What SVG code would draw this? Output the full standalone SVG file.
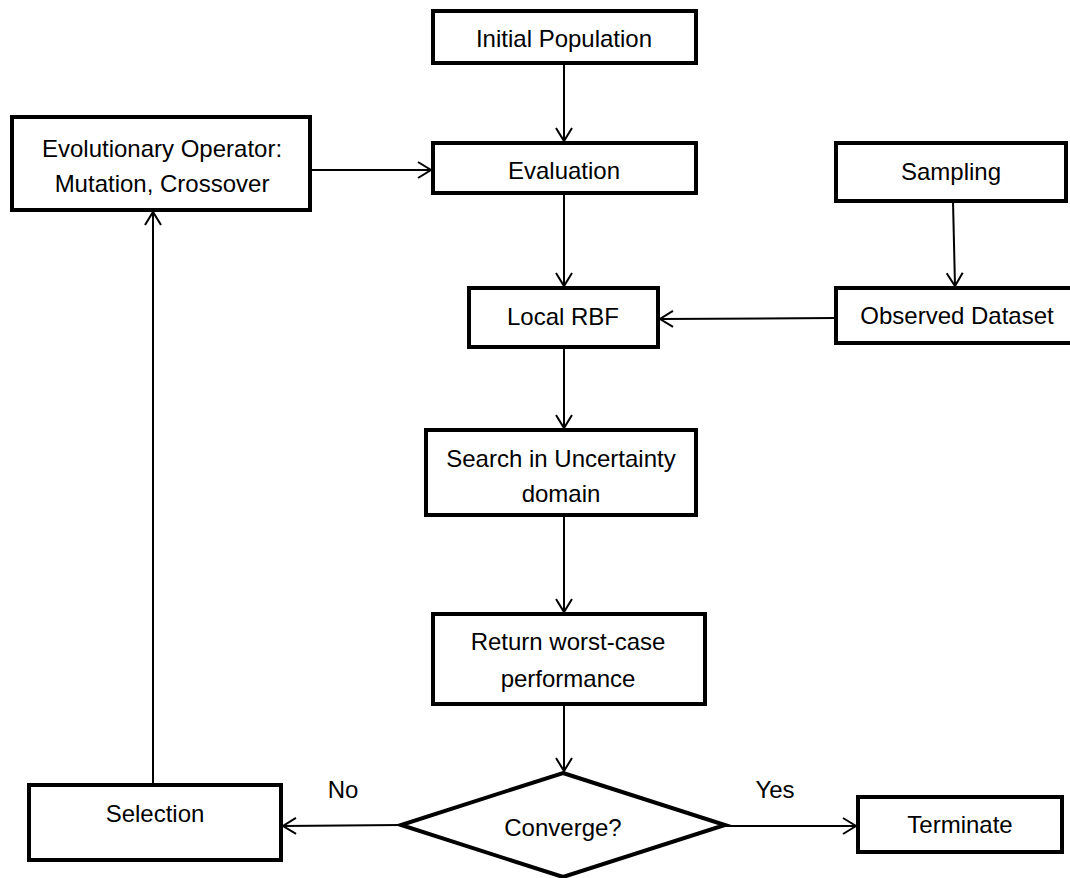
<svg xmlns="http://www.w3.org/2000/svg" width="1070" height="878" viewBox="0 0 1070 878">
<style>
.box{fill:#fff;stroke:#000;stroke-width:4}
.t{font-family:"Liberation Sans",Arial,sans-serif;font-size:24px;fill:#000;text-anchor:middle}
.c{stroke:#000;stroke-width:2;fill:none;marker-end:url(#ah)}
</style>
<defs>
<marker id="ah" markerUnits="userSpaceOnUse" markerWidth="16" markerHeight="20" refX="14" refY="9" orient="auto" viewBox="0 0 16 20">
<path d="M1,1 L14,9 L1,17" fill="none" stroke="#000" stroke-width="2"/>
</marker>
</defs>
<rect width="1070" height="878" fill="#fff"/>
<g id="connectors">
<line class="c" x1="564" y1="63" x2="564" y2="141"/>
<line class="c" x1="310" y1="170" x2="431" y2="170"/>
<line class="c" x1="564" y1="193" x2="564" y2="286"/>
<line class="c" x1="953" y1="201" x2="955" y2="286"/>
<line class="c" x1="836" y1="318" x2="660" y2="319"/>
<line class="c" x1="564" y1="347" x2="564" y2="428"/>
<line class="c" x1="564" y1="515" x2="564" y2="612"/>
<line class="c" x1="564" y1="704" x2="564" y2="771"/>
<line class="c" x1="401" y1="825" x2="283" y2="826"/>
<line class="c" x1="725" y1="826" x2="856" y2="826"/>
<line class="c" x1="153" y1="785" x2="153" y2="212"/>
</g>
<g id="initial-population">
<rect class="box" x="433" y="11" width="263" height="52"/>
<text class="t" x="564" y="47">Initial Population</text>
</g>
<g id="evaluation">
<rect class="box" x="433" y="143" width="263" height="50"/>
<text class="t" x="564" y="179">Evaluation</text>
</g>
<g id="evolutionary-operator">
<rect class="box" x="12" y="117" width="298" height="93"/>
<text class="t" x="162" y="157">Evolutionary Operator:</text>
<text class="t" x="162" y="192">Mutation, Crossover</text>
</g>
<g id="sampling">
<rect class="box" x="836" y="143" width="230" height="58"/>
<text class="t" x="951" y="180">Sampling</text>
</g>
<g id="observed-dataset">
<rect class="box" x="836" y="288" width="236" height="55"/>
<text class="t" x="957" y="324">Observed Dataset</text>
</g>
<g id="local-rbf">
<rect class="box" x="469" y="288" width="189" height="59"/>
<text class="t" x="563" y="325">Local RBF</text>
</g>
<g id="search">
<rect class="box" x="426" y="430" width="270" height="85"/>
<text class="t" x="561" y="467">Search in Uncertainty</text>
<text class="t" x="561" y="502">domain</text>
</g>
<g id="return-worst-case">
<rect class="box" x="433" y="614" width="272" height="90"/>
<text class="t" x="568" y="650">Return worst-case</text>
<text class="t" x="568" y="687">performance</text>
</g>
<g id="converge">
<polygon class="box" points="563,773 725,825 563,877 401,825"/>
<text class="t" x="563" y="836">Converge?</text>
</g>
<g id="selection">
<rect class="box" x="29" y="785" width="252" height="75"/>
<text class="t" x="155" y="822">Selection</text>
</g>
<g id="terminate">
<rect class="box" x="858" y="797" width="204" height="55"/>
<text class="t" x="960" y="833">Terminate</text>
</g>
<g id="labels">
<text class="t" x="343" y="798">No</text>
<text class="t" x="775" y="798">Yes</text>
</g>
</svg>
